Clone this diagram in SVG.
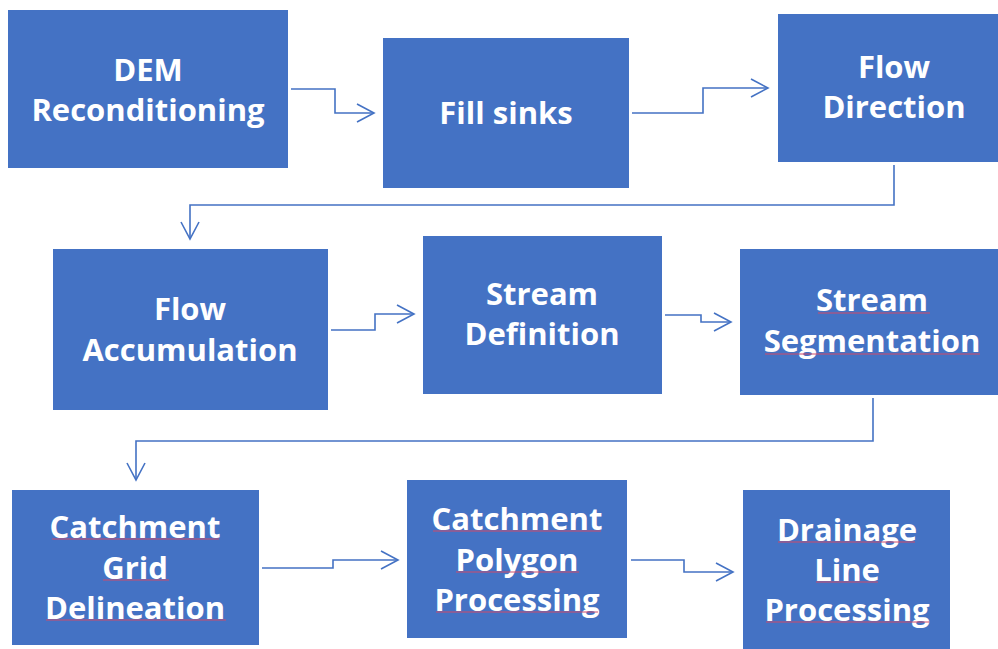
<svg xmlns="http://www.w3.org/2000/svg" width="998" height="649" viewBox="0 0 998 649">
<defs>
<marker id="arr" markerUnits="userSpaceOnUse" markerWidth="20" markerHeight="22" refX="18" refY="10" orient="auto" overflow="visible">
<path d="M1,1 L18,10 L1,19" fill="none" stroke="#4472c4" stroke-width="1.6"/>
</marker>
</defs>
<style>
.box{fill:#4472c4}
.t{font-family:"Open Sans","Liberation Sans",Arial,sans-serif;font-weight:bold;font-size:31px;fill:#ffffff;text-anchor:middle}
.c{fill:none;stroke:#4472c4;stroke-width:1.6;marker-end:url(#arr)}
.sp{stroke:#d04a6a;stroke-width:1;fill:none}
</style>
<rect width="998" height="649" fill="#ffffff"/>
<g id="connectors">
<path class="c" d="M291,89 H335 V113 H374"/>
<path class="c" d="M632,113 H703 V88 H768"/>
<path class="c" d="M894,165 V205 H190 V239"/>
<path class="c" d="M331,330 H375 V314 H414"/>
<path class="c" d="M665,315 H701 V322 H731"/>
<path class="c" d="M873,398 V441 H136 V480"/>
<path class="c" d="M262,568 H333 V560 H398"/>
<path class="c" d="M631,560 H684 V572 H733"/>
</g>
<g id="dem">
<rect class="box" x="8" y="10" width="280" height="158"/>
<text class="t" x="148" y="81">DEM</text>
<text class="t" x="148" y="121">Reconditioning</text>
</g>
<g id="fill">
<rect class="box" x="383" y="38" width="246" height="150"/>
<text class="t" x="506" y="124">Fill sinks</text>
</g>
<g id="flowdir">
<rect class="box" x="778" y="14" width="220" height="148"/>
<text class="t" x="894" y="78">Flow</text>
<text class="t" x="894" y="118">Direction</text>
</g>
<g id="flowacc">
<rect class="box" x="53" y="249" width="275" height="161"/>
<text class="t" x="190" y="320">Flow</text>
<text class="t" x="190" y="361">Accumulation</text>
</g>
<g id="streamdef">
<rect class="box" x="423" y="236" width="239" height="158"/>
<text class="t" x="542" y="305">Stream</text>
<text class="t" x="542" y="345">Definition</text>
</g>
<g id="streamseg">
<rect class="box" x="740" y="249" width="258" height="146"/>
<text class="t" x="872" y="311">Stream</text>
<text class="t" x="872" y="352">Segmentation</text>
<path class="sp" d="M818,313 H930 M765,354 H980"/>
</g>
<g id="catchgrid">
<rect class="box" x="12" y="490" width="247" height="155"/>
<text class="t" x="135" y="538">Catchment</text>
<text class="t" x="135" y="579">Grid</text>
<text class="t" x="135" y="619">Delineation</text>
<path class="sp" d="M52,539 H219 M103,580 H169 M46,620 H226"/>
</g>
<g id="catchpoly">
<rect class="box" x="407" y="480" width="220" height="158"/>
<text class="t" x="517" y="530">Catchment</text>
<text class="t" x="517" y="571">Polygon</text>
<text class="t" x="517" y="611">Processing</text>
<path class="sp" d="M433,531 H601 M456,572 H579 M436,612 H598"/>
</g>
<g id="drainage">
<rect class="box" x="743" y="490" width="207" height="159"/>
<text class="t" x="847" y="541">Drainage</text>
<text class="t" x="847" y="581">Line</text>
<text class="t" x="847" y="621">Processing</text>
<path class="sp" d="M778,542 H915 M816,582 H878 M766,622 H929"/>
</g>
</svg>
